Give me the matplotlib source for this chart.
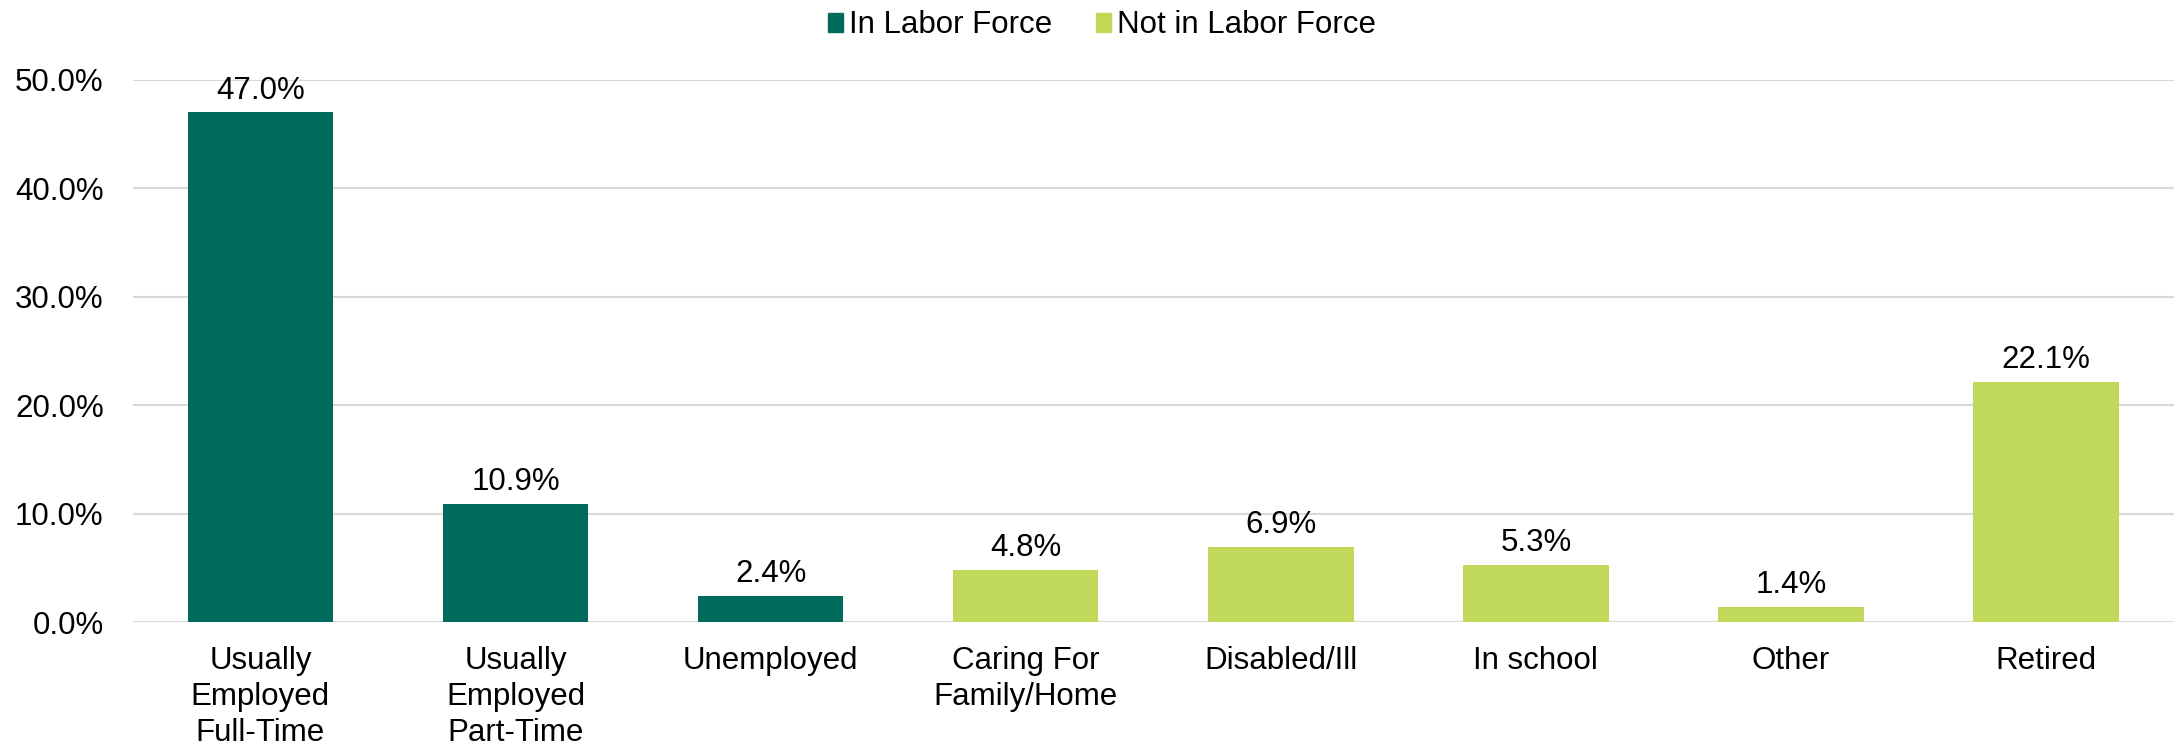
import matplotlib.pyplot as plt
from matplotlib.patches import Patch

plt.rcParams['font.family'] = ['Liberation Sans', 'DejaVu Sans']

categories = ['Usually\nEmployed\nFull-Time', 'Usually\nEmployed\nPart-Time', 'Unemployed',
              'Caring For\nFamily/Home', 'Disabled/Ill', 'In school', 'Other', 'Retired']
shares = [47.0, 10.9, 2.4, 4.8, 6.9, 5.3, 1.4, 22.1]
in_labor_force = [True, True, True, False, False, False, False, False]

dark_green = '#006B5D'
light_green = '#C1D95B'
colors = [dark_green if f else light_green for f in in_labor_force]
fs = 22.5

fig = plt.figure(figsize=(21.78, 7.47), dpi=100)
ax = fig.add_axes([0.061, 0.1673, 0.937, 0.7257])

x = range(len(categories))
bars = ax.bar(x, shares, width=0.57, color=colors, zorder=3)

# value labels on top of each bar
for b, v in zip(bars, shares):
    ax.annotate(f'{v:.1f}%', (b.get_x() + b.get_width() / 2, v),
                xytext=(0, 5), textcoords='offset points',
                ha='center', va='bottom', fontsize=fs)

ax.set_xlim(-0.5, len(categories) - 0.5)
ax.set_ylim(0, 50)
ax.set_yticks([0, 10, 20, 30, 40, 50])
ax.set_yticklabels([f'{t:.1f}%' for t in [0, 10, 20, 30, 40, 50]])
ax.set_xticks(list(x))
ax.set_xticklabels(categories, fontsize=fs, linespacing=1.27)
ax.tick_params(axis='y', length=0, pad=21, labelsize=fs)
ax.tick_params(axis='x', length=0, pad=17)

ax.yaxis.grid(True, color='#D9D9D9', linewidth=1.5, zorder=0)
for s in ax.spines.values():
    s.set_visible(False)

handles = [Patch(color=dark_green, label='In Labor Force'),
           Patch(color=light_green, label='Not in Labor Force')]
fig.legend(handles=handles, loc='center', bbox_to_anchor=(0.506, 0.966), ncol=2,
           frameon=False, fontsize=fs, handlelength=0.48, handleheight=0.55,
           handletextpad=0.2, columnspacing=1.4, borderpad=0)

fig.savefig('out.png', dpi=100)
